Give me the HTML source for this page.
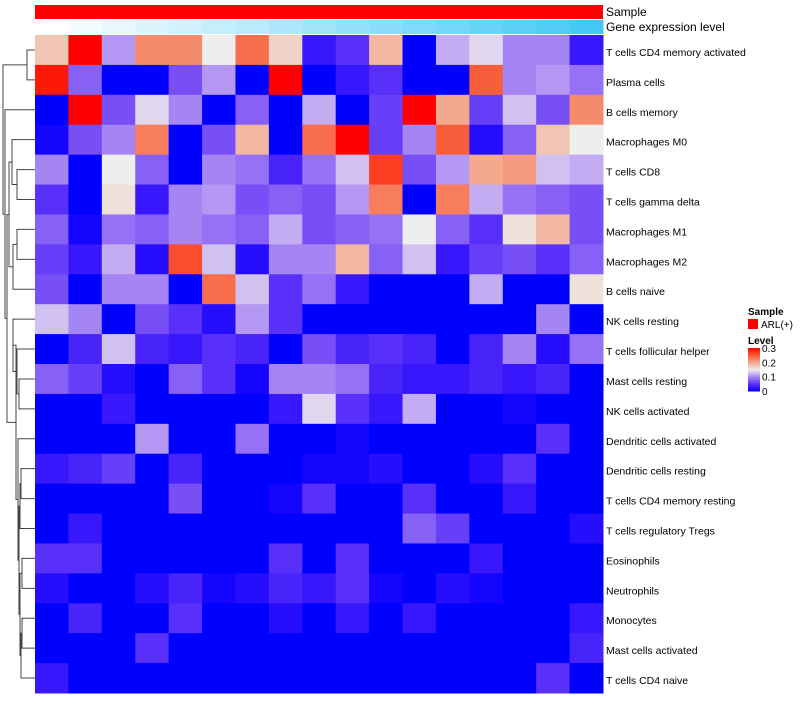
<!DOCTYPE html>
<html><head><meta charset="utf-8"><style>
body{margin:0;background:#fff;}
svg text{font-family:"Liberation Sans",sans-serif;}
</style></head><body>
<svg id="chart" width="800" height="700" xmlns="http://www.w3.org/2000/svg"></svg>
<script>
const rowLabels=["T cells CD4 memory activated","Plasma cells","B cells memory","Macrophages M0","T cells CD8","T cells gamma delta","Macrophages M1","Macrophages M2","B cells naive","NK cells resting","T cells follicular helper","Mast cells resting","NK cells activated","Dendritic cells activated","Dendritic cells resting","T cells CD4 memory resting","T cells regulatory  Tregs","Eosinophils","Neutrophils","Monocytes","Mast cells activated","T cells CD4 naive"];
const values=[
[0.18,0.3,0.11,0.22,0.22,0.15,0.24,0.17,0.03,0.05,0.19,0,0.12,0.14,0.10,0.10,0.03],
[0.29,0.08,0,0,0.07,0.11,0,0.3,0,0.03,0.05,0,0,0.25,0.10,0.11,0.09],
[0,0.3,0.07,0.14,0.10,0,0.08,0,0.12,0,0.06,0.3,0.2,0.06,0.13,0.07,0.22],
[0.01,0.07,0.10,0.23,0,0.07,0.19,0,0.24,0.3,0.06,0.10,0.25,0.02,0.08,0.18,0.15],
[0.10,0,0.15,0.08,0,0.10,0.09,0.04,0.09,0.13,0.27,0.07,0.11,0.20,0.21,0.13,0.12],
[0.05,0,0.16,0.03,0.10,0.11,0.07,0.08,0.07,0.11,0.23,0,0.23,0.12,0.09,0.08,0.07],
[0.08,0.01,0.09,0.08,0.10,0.09,0.08,0.12,0.07,0.08,0.09,0.15,0.08,0.05,0.16,0.19,0.07],
[0.06,0.03,0.12,0.02,0.26,0.13,0.02,0.10,0.10,0.19,0.08,0.13,0.03,0.06,0.07,0.05,0.08],
[0.07,0,0.10,0.10,0,0.24,0.13,0.05,0.09,0.03,0,0,0,0.12,0,0,0.16],
[0.13,0.10,0,0.07,0.05,0.02,0.11,0.05,0,0,0,0,0,0,0,0.10,0],
[0,0.04,0.13,0.04,0.03,0.05,0.04,0,0.07,0.04,0.05,0.04,0,0.04,0.10,0.02,0.09],
[0.08,0.06,0.02,0,0.08,0.05,0.01,0.10,0.10,0.09,0.04,0.03,0.03,0.04,0.03,0.04,0],
[0,0,0.03,0,0,0,0,0.03,0.14,0.05,0.03,0.12,0,0,0.01,0,0],
[0,0,0,0.11,0,0,0.09,0,0,0.01,0,0,0,0,0,0.05,0],
[0.03,0.04,0.06,0,0.04,0,0,0,0.01,0.01,0.02,0,0,0.02,0.05,0,0],
[0,0,0,0,0.07,0,0,0.01,0.05,0,0,0.05,0,0,0.03,0,0],
[0,0.03,0,0,0,0,0,0,0,0,0,0.08,0.06,0,0,0,0.02],
[0.05,0.05,0,0,0,0,0,0.05,0,0.05,0,0,0,0.03,0,0,0],
[0.02,0,0,0.02,0.04,0.01,0.02,0.04,0.03,0.05,0.01,0,0.02,0.01,0,0,0],
[0,0.04,0,0,0.05,0,0,0.02,0,0.03,0,0.03,0,0,0,0,0.03],
[0,0,0,0.05,0,0,0,0,0,0,0,0,0,0,0,0,0.04],
[0.03,0,0,0,0,0,0,0,0,0,0,0,0,0,0,0.05,0]
];
const geneLevel=[0,1,2,3,4,5,6,7,8,9,10,11,12,13,14,15,16];
const legendTicks=[0,0.1,0.2,0.3];
const merges=[[0,1,27],[4,5,17],[3,101,12],[6,7,17],[103,8,13],[102,104,9],[11,12,19],[10,106,17],[9,107,13],[14,15,21],[16,109,20],[17,18,22],[19,20,22],[112,21,21],[111,113,20],[110,114,19],[13,115,18],[108,116,16],[105,117,7],[2,118,5],[100,119,3]];

const NS="http://www.w3.org/2000/svg";
const svg=document.getElementById('chart');
const X0=35,X1=603,Y0=35,Y1=693;
const nC=values[0].length,nR=values.length;
const cw=(X1-X0)/nC,rh=(Y1-Y0)/nR;
const xCol=i=>X0+i*cw, yRow=i=>Y0+i*rh;
function mk(t,a){const e=document.createElementNS(NS,t);for(const k in a)e.setAttribute(k,a[k]);svg.appendChild(e);return e;}
function lerp(a,b,t){return a.map((v,i)=>Math.round(v+(b[i]-v)*t));}
function color(v){const t=Math.max(0,Math.min(0.3,v));let c;
 if(t<0.15){const s=t/0.15;c=[Math.round(238*Math.pow(s,0.9)),Math.round(238*Math.pow(s,1.45)),Math.round(255-17*s)];}
 else{const s=(t-0.15)/0.15;c=[Math.round(238+17*s),Math.round(238*Math.pow(1-s,0.85)),Math.round(238*Math.pow(1-s,1.25))];}
 return `rgb(${c})`;}
let e=mk('rect',{x:X0,y:5,width:X1-X0,height:14,fill:'#ff0000'});


geneLevel.forEach((g,i)=>{const c=lerp([255,255,255],[70,200,245],g/16);
 const r=mk('rect',{x:xCol(i),y:20,width:cw+0.5,height:14,fill:`rgb(${c})`});
 
 });
e=mk('text',{x:606,y:16,'font-size':12});e.textContent='Sample';


e=mk('text',{x:606,y:31,'font-size':12});e.textContent='Gene expression level';


values.forEach((row,r)=>row.forEach((v,c)=>{
 const cell=mk('rect',{x:xCol(c),y:yRow(r),width:cw+0.5,height:rh+0.5,fill:color(v)});
 
 }));
rowLabels.forEach((l,r)=>{const t=mk('text',{x:606,y:yRow(r)+rh/2+6,'font-size':10.5,fill:'#000'});t.textContent=l;
 
 });
const pos={};for(let i=0;i<nR;i++)pos[i]={y:yRow(i)+rh/2,x:X0};
merges.forEach((m,k)=>{const a=pos[m[0]],b=pos[m[1]],x=m[2];
 const p=mk('path',{d:`M${a.x},${a.y}H${x}V${b.y}H${b.x}`,fill:'none',stroke:'#444','stroke-width':1});
 
 
 pos[100+k]={x:x,y:(a.y+b.y)/2};});
e=mk('text',{x:748,y:315,'font-size':10,'font-weight':'bold'});e.textContent='Sample';


e=mk('rect',{x:748,y:319,width:10,height:10,fill:'#ff0000'});


e=mk('text',{x:761,y:328,'font-size':10});e.textContent='ARL(+)';


e=mk('text',{x:748,y:344,'font-size':10,'font-weight':'bold'});e.textContent='Level';


const LY0=391,LY1=348;
for(let i=0;i<30;i++){const v=i/30*0.3;const r=mk('rect',{x:748,y:LY0-(i+1)*(LY0-LY1)/30,width:12,height:(LY0-LY1)/30+0.5,fill:color(v+0.005)});
 
 }
legendTicks.forEach(t=>{const y=LY0-(t/0.3)*(LY0-LY1);
 const tx=mk('text',{x:762,y:y+4,'font-size':10});tx.textContent=t===0?'0':t.toString();
 
 });
</script>
</body></html>
